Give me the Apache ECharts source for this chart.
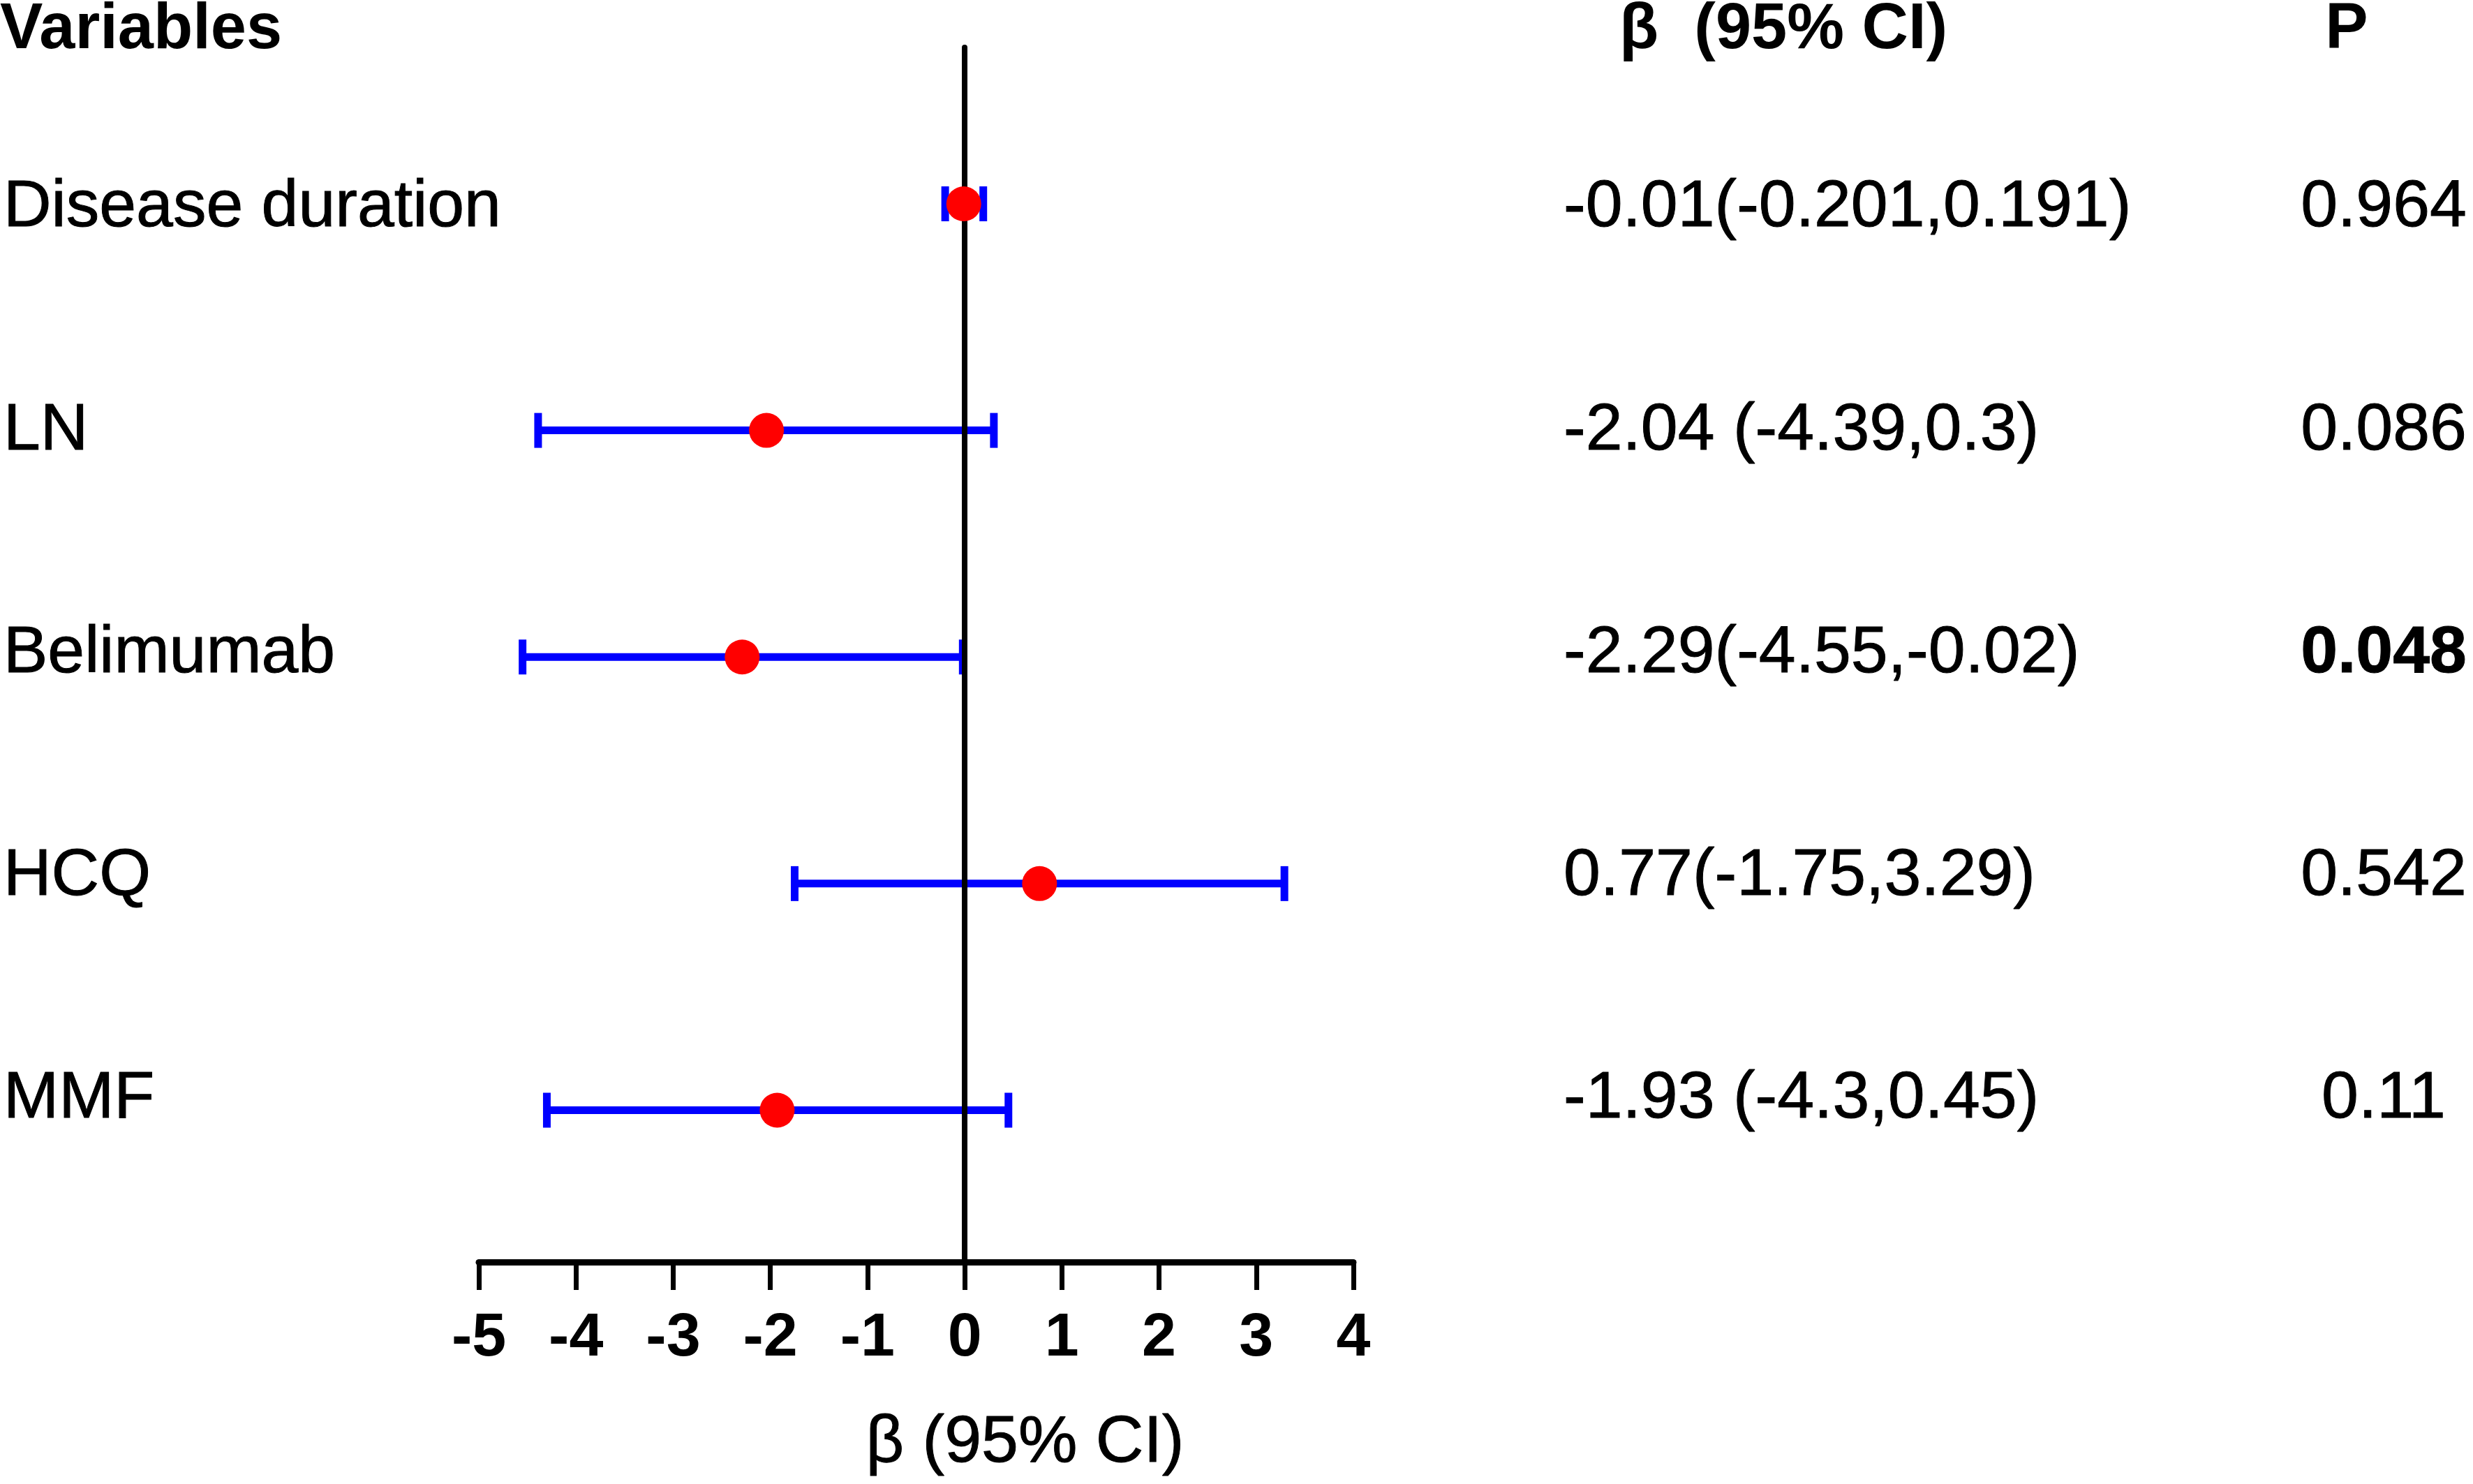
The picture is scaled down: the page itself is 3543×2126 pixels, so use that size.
<!DOCTYPE html>
<html>
<head>
<meta charset="utf-8">
<title>Forest plot</title>
<script src="https://cdn.jsdelivr.net/npm/echarts@6/dist/echarts.min.js"></script>
<style>
html, body { margin: 0; padding: 0; background: #fff; }
#forest { width: 3543px; height: 2126px; }
</style>
</head>
<body>
<div id="forest"></div>
<script>
// rows, top to bottom
var variables = ['Disease duration', 'LN', 'Belimumab', 'HCQ', 'MMF'];
var beta = [-0.01, -2.04, -2.29, 0.77, -1.93];
var ciLow = [-0.201, -4.39, -4.55, -1.75, -4.3];
var ciHigh = [0.191, 0.3, -0.02, 3.29, 0.45];
var ciText = ['-0.01(-0.201,0.191)', '-2.04 (-4.39,0.3)', '-2.29(-4.55,-0.02)', '0.77(-1.75,3.29)', '-1.93 (-4.3,0.45)'];
var pText = ['0.964', '0.086', '0.048', '0.542', '0.11'];
var xMin = -5, xMax = 4, xStep = 1;

var FONT = 'Liberation Sans, Arial, sans-serif';
// column anchors of the text table (px)
var NAME_X = 5, CI_X = 2240, P_X = 3415;

function rowY(i) {
    return variables.length - i;
}

var pointData = [], barData = [], nameData = [], ciData = [], pData = [];
for (var i = 0; i < variables.length; i++) {
    pointData.push([beta[i], rowY(i)]);
    barData.push([ciLow[i], ciHigh[i], rowY(i)]);
    nameData.push({value: [NAME_X, rowY(i)], name: variables[i]});
    ciData.push({value: [CI_X, rowY(i)], name: ciText[i]});
    pData.push({
        value: [P_X, rowY(i)],
        name: pText[i],
        label: {fontWeight: parseFloat(pText[i]) < 0.05 ? 'bold' : 'normal'}
    });
}

function renderErrorBar(params, api) {
    var y = api.value(2);
    var lo = api.coord([api.value(0), y]);
    var hi = api.coord([api.value(1), y]);
    var h = 25;
    var style = {stroke: '#0000ff', lineWidth: 11, fill: null};
    return {
        type: 'group',
        children: [
            {type: 'line', shape: {x1: lo[0], y1: lo[1], x2: hi[0], y2: hi[1]}, style: style},
            {type: 'line', shape: {x1: lo[0], y1: lo[1] - h, x2: lo[0], y2: lo[1] + h}, style: style},
            {type: 'line', shape: {x1: hi[0], y1: hi[1] - h, x2: hi[0], y2: hi[1] + h}, style: style}
        ]
    };
}

function textLabel(align) {
    return {
        show: true,
        position: [0, 0],
        align: align,
        verticalAlign: 'middle',
        formatter: '{b}',
        fontFamily: FONT,
        fontSize: 95,
        color: '#000',
        textBorderColor: '#000',
        textBorderWidth: 1
    };
}

var chart = echarts.init(document.getElementById('forest'));
var option = {
    animation: false,
    backgroundColor: '#fff',
    textStyle: {fontFamily: FONT},
    grid: [
        {left: 686, right: 1604, top: 68, bottom: 318},
        {left: 0, right: 0, top: 78, bottom: 337}
    ],
    xAxis: [
        {
            gridIndex: 0,
            type: 'value',
            min: xMin,
            max: xMax,
            interval: xStep,
            name: 'β (95% CI)',
            nameLocation: 'middle',
            nameGap: 212,
            nameTextStyle: {
                fontFamily: FONT, fontSize: 95, color: '#000',
                textBorderColor: '#000', textBorderWidth: 1,
                padding: [0, 0, 0, 312]
            },
            axisLine: {show: true, onZero: false, lineStyle: {color: '#000', width: 9}},
            axisTick: {show: true, length: 40, lineStyle: {color: '#000', width: 7}},
            axisLabel: {fontFamily: FONT, fontSize: 88, fontWeight: 'bold', color: '#000', margin: 66},
            splitLine: {show: false}
        },
        {
            gridIndex: 1,
            type: 'value',
            min: 0,
            max: 3543,
            show: false
        }
    ],
    yAxis: [
        {
            gridIndex: 0,
            type: 'value',
            min: 0.33,
            max: 5.69,
            z: 3,
            axisLine: {show: true, onZero: true, lineStyle: {color: '#000', width: 8}},
            axisTick: {show: false},
            axisLabel: {show: false},
            splitLine: {show: false}
        },
        {
            gridIndex: 1,
            type: 'value',
            min: 0.33,
            max: 5.69,
            show: false
        }
    ],
    graphic: [
        {type: 'text', x: 0, y: 44, style: {text: 'Variables', font: 'bold 92px ' + FONT, fill: '#000', textVerticalAlign: 'middle'}},
        {type: 'text', x: 2320, y: 44, style: {text: 'β  (95% CI)', font: 'bold 92px ' + FONT, fill: '#000', textVerticalAlign: 'middle'}},
        {type: 'text', x: 3362, y: 44, style: {text: 'P', font: 'bold 92px ' + FONT, fill: '#000', textAlign: 'center', textVerticalAlign: 'middle'}}
    ],
    series: [
        {
            type: 'custom',
            xAxisIndex: 0,
            yAxisIndex: 0,
            z: 2,
            renderItem: renderErrorBar,
            data: barData
        },
        {
            type: 'scatter',
            xAxisIndex: 0,
            yAxisIndex: 0,
            z: 5,
            symbol: 'circle',
            symbolSize: 50,
            itemStyle: {color: '#ff0000', opacity: 1},
            data: pointData
        },
        {
            type: 'scatter',
            xAxisIndex: 1,
            yAxisIndex: 1,
            symbolSize: 0,
            itemStyle: {opacity: 1},
            label: textLabel('left'),
            data: nameData
        },
        {
            type: 'scatter',
            xAxisIndex: 1,
            yAxisIndex: 1,
            symbolSize: 0,
            itemStyle: {opacity: 1},
            label: textLabel('left'),
            data: ciData
        },
        {
            type: 'scatter',
            xAxisIndex: 1,
            yAxisIndex: 1,
            symbolSize: 0,
            itemStyle: {opacity: 1},
            label: textLabel('center'),
            data: pData
        }
    ]
};
chart.setOption(option);
</script>
</body>
</html>
